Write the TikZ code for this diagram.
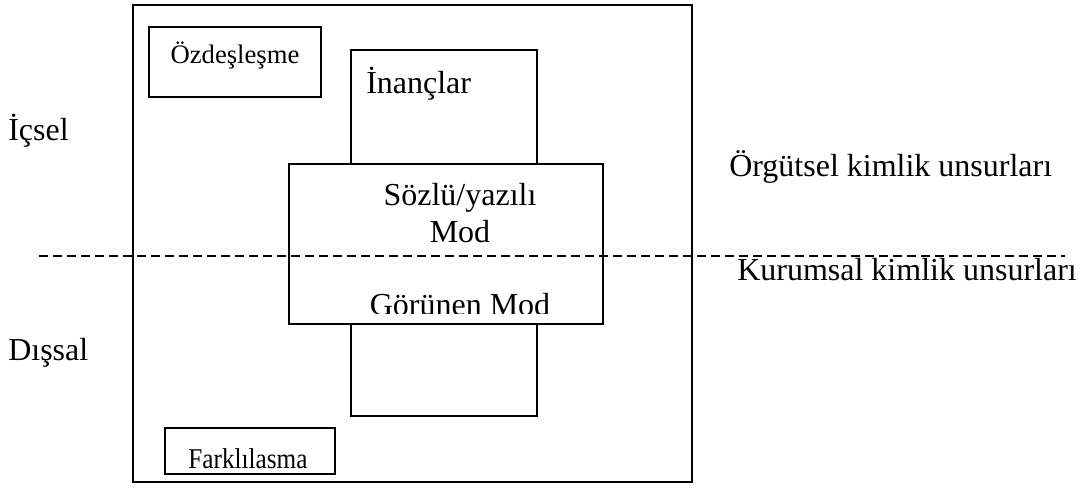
\documentclass[tikz,border=0pt]{standalone}
\usepackage{fontspec}
\setmainfont{Liberation Serif}
\usetikzlibrary{fit}
\begin{document}
\begin{tikzpicture}[x=0.75pt,y=-0.75pt,
  box/.style={draw=black,line width=1.3pt,rectangle,inner sep=0pt,fill=white},
  lbl/.style={inner sep=0pt,font=\fontsize{24}{28}\selectfont},
  small/.style={inner sep=0pt,font=\fontsize{20}{24}\selectfont},
  divider/.style={line width=1.1pt,dash pattern=on 6.75pt off 3.75pt}]
\useasboundingbox (0,0) rectangle (1083,489);

% corner points of the boxes
\coordinate (o1) at (133,5);   \coordinate (o2) at (692,482);
\coordinate (z1) at (149,27);  \coordinate (z2) at (321,97);
\coordinate (v1) at (351,50);  \coordinate (v2) at (537,416);
\coordinate (h1) at (289,164); \coordinate (h2) at (603,324);
\coordinate (f1) at (165,428); \coordinate (f2) at (335,474);
\coordinate (dl) at (39,256);  \coordinate (dr) at (1065,256);

% frame and inner boxes
\node[box,fill=none,fit=(o1)(o2)] (outer) {};
\node[box,fit=(z1)(z2)] (ozbox) {};
\node[box,fit=(v1)(v2)] (vbox) {};
\node[box,fit=(h1)(h2)] (hbox) {};
\node[box,fit=(f1)(f2)] (fbox) {};

% texts inside the boxes
\node[small,anchor=base] (oz) at (235,63) {Özdeşleşme};
\node[lbl,anchor=base west] (inanc) at (366,93) {İnançlar};
\node[lbl,anchor=base] (soz) at (460,205) {Sözlü/yazılı};
\node[lbl,anchor=base] (mod) at (460,242) {Mod};
\begin{scope}
  \clip (289,280) rectangle (603,313);
  \node[lbl,anchor=base] (gor) at (460,315) {Görünen Mod};
\end{scope}
\node[inner sep=0pt,font=\fontsize{21.5}{24}\selectfont,anchor=base,xscale=0.88] (fark) at (248,468) {Farklılasma};

% dividing line between the two halves
\draw[divider] (dl) -- (dr);

% side labels
\node[lbl,anchor=base west] (icsel) at (8,140) {İçsel};
\node[lbl,anchor=base west] (dissal) at (8,360) {Dışsal};
\node[lbl,anchor=base west] (orgut) at (729,176) {Örgütsel kimlik unsurları};
\node[lbl,anchor=base west] (kurum) at (737,280) {Kurumsal kimlik unsurları};
\end{tikzpicture}
\end{document}
